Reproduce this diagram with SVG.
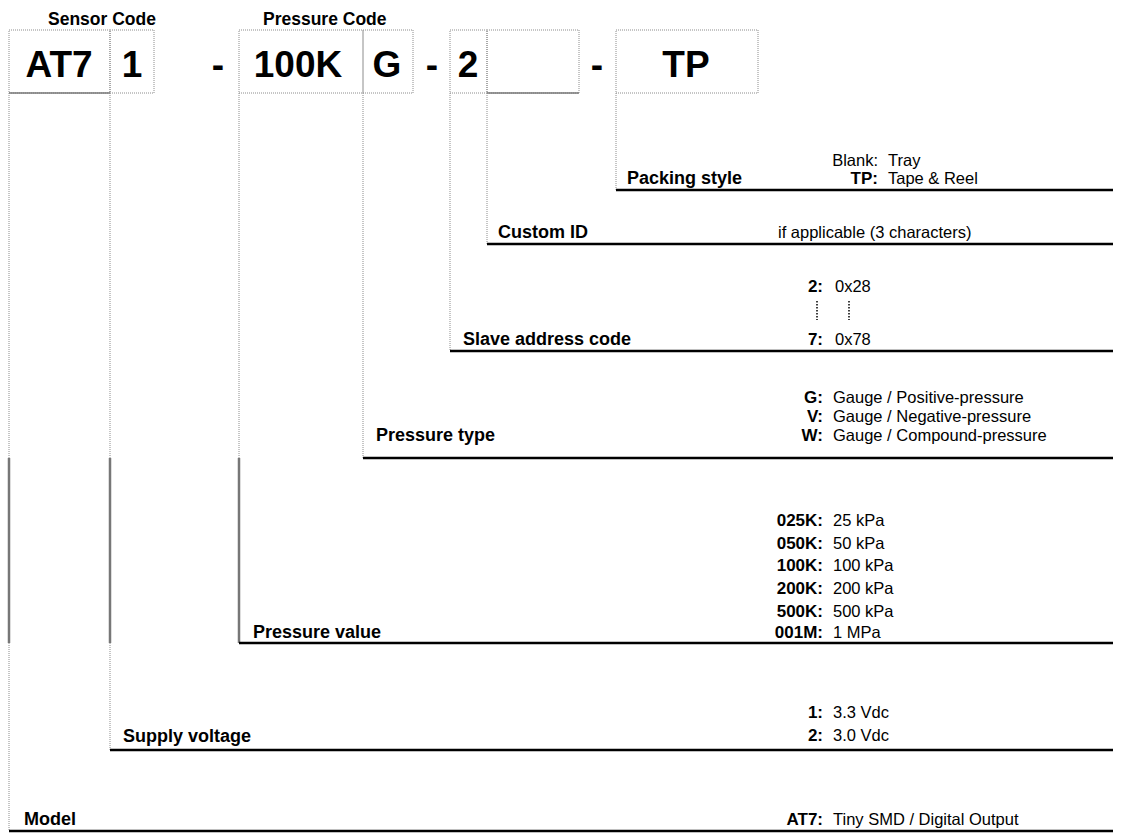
<svg xmlns="http://www.w3.org/2000/svg" width="1124" height="833" viewBox="0 0 1124 833">
<style>
.grid{fill:none;stroke:#8c8c8c;stroke-width:1;stroke-dasharray:1 1}
.solidv{stroke:#777;stroke-width:2.5}
.rule{stroke:#000;stroke-width:2.5}
.big{font-family:"Liberation Sans",Arial,sans-serif;font-weight:bold;font-size:37px;fill:#000;text-anchor:middle}
.hd{font-family:"Liberation Sans",Arial,sans-serif;font-weight:bold;font-size:17.5px;fill:#000}
.lb{font-family:"Liberation Sans",Arial,sans-serif;font-weight:bold;font-size:18px;fill:#000}
.k{font-family:"Liberation Sans",Arial,sans-serif;font-weight:bold;font-size:17px;fill:#000;text-anchor:end}
.v{font-family:"Liberation Sans",Arial,sans-serif;font-size:16.5px;fill:#000}
.kr{font-family:"Liberation Sans",Arial,sans-serif;font-size:16.5px;fill:#000;text-anchor:end}
</style>
<rect width="1124" height="833" fill="#fff"/>
<g id="header">
<text class="hd" x="48" y="25">Sensor Code</text>
<text class="hd" x="263" y="25">Pressure Code</text>
</g>
<g id="code-boxes">
<rect class="grid" x="9" y="30" width="101" height="63"/>
<rect class="grid" x="110" y="30" width="44" height="63"/>
<rect class="grid" x="239" y="30" width="124" height="63"/>
<rect class="grid" x="363" y="30" width="50" height="63"/>
<rect class="grid" x="450" y="30" width="37" height="63"/>
<rect class="grid" x="487" y="30" width="92" height="63"/>
<rect class="grid" x="616" y="30" width="142" height="63"/>
<line x1="9" y1="93" x2="110" y2="93" stroke="#777" stroke-width="1.5"/>
<line x1="487" y1="93" x2="579" y2="93" stroke="#777" stroke-width="1.5"/>
<text class="big" x="59" y="77">AT7</text>
<text class="big" x="132" y="77">1</text>
<text class="big" x="218" y="77">-</text>
<text class="big" x="298" y="77">100K</text>
<text class="big" x="387" y="77">G</text>
<text class="big" x="432" y="77">-</text>
<text class="big" x="468" y="77">2</text>
<text class="big" x="597" y="77">-</text>
<text class="big" x="686" y="77">TP</text>
</g>
<g id="connectors">
<line class="grid" x1="616" y1="93" x2="616" y2="190"/>
<line class="grid" x1="487" y1="93" x2="487" y2="244"/>
<line class="grid" x1="450" y1="93" x2="450" y2="351"/>
<line class="grid" x1="363" y1="93" x2="363" y2="458"/>
<line class="grid" x1="239" y1="93" x2="239" y2="458"/>
<line class="solidv" x1="239" y1="458" x2="239" y2="643"/>
<line class="grid" x1="110" y1="93" x2="110" y2="458"/>
<line class="solidv" x1="110" y1="458" x2="110" y2="643"/>
<line class="grid" x1="110" y1="643" x2="110" y2="750"/>
<line class="grid" x1="9" y1="93" x2="9" y2="458"/>
<line class="solidv" x1="9" y1="458" x2="9" y2="643"/>
<line class="grid" x1="9" y1="643" x2="9" y2="831"/>
<line class="rule" x1="616" y1="190" x2="1113" y2="190"/>
<line class="rule" x1="487" y1="244" x2="1113" y2="244"/>
<line class="rule" x1="450" y1="351" x2="1113" y2="351"/>
<line class="rule" x1="363" y1="458" x2="1113" y2="458"/>
<line class="rule" x1="239" y1="643" x2="1113" y2="643"/>
<line class="rule" x1="110" y1="750" x2="1113" y2="750"/>
<line class="rule" x1="9" y1="831" x2="1113" y2="831"/>
</g>
<g id="packing-style">
<text class="lb" x="627" y="184">Packing style</text>
<text class="kr" x="878" y="166">Blank:</text>
<text class="v" x="888" y="166">Tray</text>
<text class="k" x="878" y="184">TP:</text>
<text class="v" x="888" y="184">Tape &amp; Reel</text>
</g>
<g id="custom-id">
<text class="lb" x="498" y="238">Custom ID</text>
<text class="v" x="778" y="238">if applicable (3 characters)</text>
</g>
<g id="slave-address">
<text class="lb" x="463" y="345">Slave address code</text>
<text class="k" x="823" y="292">2:</text>
<text class="v" x="835" y="292">0x28</text>
<line x1="817" y1="301" x2="817" y2="320" stroke="#000" stroke-width="1.5" stroke-dasharray="1.5 1.5"/>
<line x1="849" y1="301" x2="849" y2="320" stroke="#000" stroke-width="1.5" stroke-dasharray="1.5 1.5"/>
<text class="k" x="823" y="345">7:</text>
<text class="v" x="835" y="345">0x78</text>
</g>
<g id="pressure-type">
<text class="lb" x="376" y="441">Pressure type</text>
<text class="k" x="823" y="403">G:</text>
<text class="v" x="833" y="403">Gauge / Positive-pressure</text>
<text class="k" x="823" y="422">V:</text>
<text class="v" x="833" y="422">Gauge / Negative-pressure</text>
<text class="k" x="823" y="441">W:</text>
<text class="v" x="833" y="441">Gauge / Compound-pressure</text>
</g>
<g id="pressure-value">
<text class="lb" x="253" y="638">Pressure value</text>
<text class="k" x="823" y="526">025K:</text>
<text class="v" x="833" y="526">25 kPa</text>
<text class="k" x="823" y="549">050K:</text>
<text class="v" x="833" y="549">50 kPa</text>
<text class="k" x="823" y="571">100K:</text>
<text class="v" x="833" y="571">100 kPa</text>
<text class="k" x="823" y="594">200K:</text>
<text class="v" x="833" y="594">200 kPa</text>
<text class="k" x="823" y="617">500K:</text>
<text class="v" x="833" y="617">500 kPa</text>
<text class="k" x="823" y="638">001M:</text>
<text class="v" x="833" y="638">1 MPa</text>
</g>
<g id="supply-voltage">
<text class="lb" x="123" y="742">Supply voltage</text>
<text class="k" x="823" y="718">1:</text>
<text class="v" x="833" y="718">3.3 Vdc</text>
<text class="k" x="823" y="741">2:</text>
<text class="v" x="833" y="741">3.0 Vdc</text>
</g>
<g id="model">
<text class="lb" x="24" y="825">Model</text>
<text class="k" x="823" y="825">AT7:</text>
<text class="v" x="833" y="825">Tiny SMD / Digital Output</text>
</g>
</svg>
